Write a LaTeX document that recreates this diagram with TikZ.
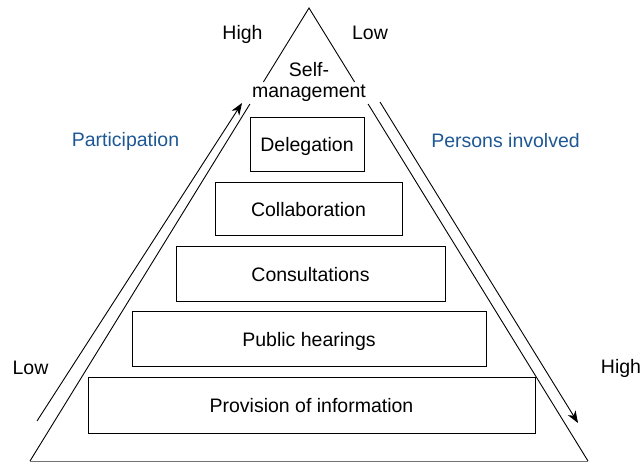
\documentclass[tikz,border=0pt]{standalone}
\usepackage{fontspec}
\setmainfont{Liberation Sans}
\usetikzlibrary{arrows.meta}
\definecolor{partblue}{RGB}{30,88,148}
\begin{document}
\begin{tikzpicture}[x=1pt,y=-1pt,
  every node/.style={font=\fontsize{19.5}{22}\selectfont, inner sep=0pt},
  levelbox/.style={draw=black, line width=1pt, text height=13.8pt, text depth=0pt},
  side/.style={draw=black, line width=0.9pt},
  basel/.style={draw=black!55, line width=1pt},
  flow/.style={draw=black, line width=0.9pt, -{Stealth[length=12pt,width=9pt,inset=3.5pt]}},
  bluetext/.style={text=partblue, anchor=base},
  plain/.style={anchor=base}]
\useasboundingbox (0,0) rectangle (643,462);
% triangle corners and gaps
\coordinate (apex) at (309,8);
\coordinate (bl) at (30,461);
\coordinate (br) at (588,461);
\coordinate (lu) at (263.4,82);
\coordinate (ll) at (249.9,104);
\coordinate (ru) at (354.6,82);
\coordinate (rl) at (368.1,104);
\draw[side] (lu) -- (apex) -- (ru);
\draw[side] (ll) -- (bl);
\draw[side] (rl) -- (br);
\draw[basel] (bl) -- (br);
% level boxes
\node[levelbox, minimum width=114, minimum height=54] (deleg) at (307,145) {Delegation};
\node[levelbox, minimum width=187, minimum height=53] (collab) at (308.5,209.5) {Collaboration};
\node[levelbox, minimum width=269, minimum height=55] (consult) at (310.5,274.5) {Consultations};
\node[levelbox, minimum width=354, minimum height=55] (hear) at (309,339.5) {Public hearings};
\node[levelbox, minimum width=447, minimum height=55] (info) at (311.5,405.5) {Provision of information};
% top labels
\node[plain] (self1) at (309,77) {Self-};
\node[plain] (self2) at (309,98) {management};
\node[plain] (hightop) at (242.5,40) {High};
\node[plain] (lowtop) at (370,40) {Low};
\node[plain] (lowleft) at (30.5,375) {Low};
\node[plain] (highright) at (621,374) {High};
\node[bluetext] (part) at (125.5,147) {Participation};
\node[bluetext] (pers) at (505.5,148) {Persons involved};
% arrows
\coordinate (la0) at (37,421);
\coordinate (la1) at (242,103);
\coordinate (ra0) at (380,102);
\coordinate (ra1) at (578,423);
\draw[flow] (la0) -- (la1);
\draw[flow] (ra0) -- (ra1);
\end{tikzpicture}
\end{document}
